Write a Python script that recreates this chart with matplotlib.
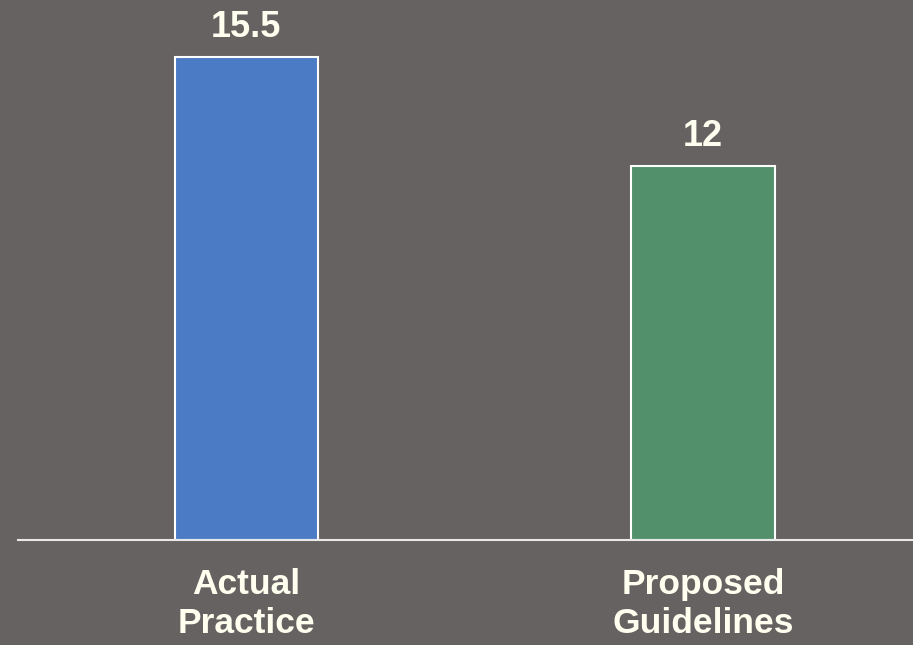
import matplotlib
matplotlib.use('Agg')
from matplotlib import pyplot as plt

categories = ['Actual\nPractice', 'Proposed\nGuidelines']
values = [15.5, 12]
value_labels = ['15.5', '12']
bar_colors = ['#4A7BC4', '#51906A']

bg = '#666261'
txt = '#FFFFF0'

plt.rcParams['font.family'] = ['Liberation Sans', 'DejaVu Sans']

fig = plt.figure(figsize=(9.13, 6.45), dpi=100, facecolor=bg)
ax = fig.add_axes([18 / 913, 105 / 645, 1 - 18 / 913, 540 / 645])
ax.set_facecolor(bg)

x = range(len(values))
bars = ax.bar(x, values, width=0.314, color=bar_colors,
              edgecolor='white', linewidth=1.5, zorder=3)

for b, lab in zip(bars, value_labels):
    ax.annotate(lab, (b.get_x() + b.get_width() / 2, b.get_height()),
                xytext=(0, 9), textcoords='offset points',
                ha='center', va='bottom', fontsize=26, fontweight='bold',
                color=txt)

ax.set_xlim(-0.5, 1.46)
ax.set_ylim(0, 17.33)
ax.set_yticks([])
ax.set_xticks(list(x))
ax.set_xticklabels(categories, fontsize=25.5, fontweight='bold', color=txt,
                   linespacing=1.25)
ax.tick_params(axis='x', length=0, pad=20)

for s in ['top', 'right', 'left']:
    ax.spines[s].set_visible(False)
ax.spines['bottom'].set_color('#E8E8E8')
ax.spines['bottom'].set_linewidth(1.5)
ax.spines['bottom'].set_zorder(4)

plt.savefig('out.png', dpi=100, facecolor=bg)
